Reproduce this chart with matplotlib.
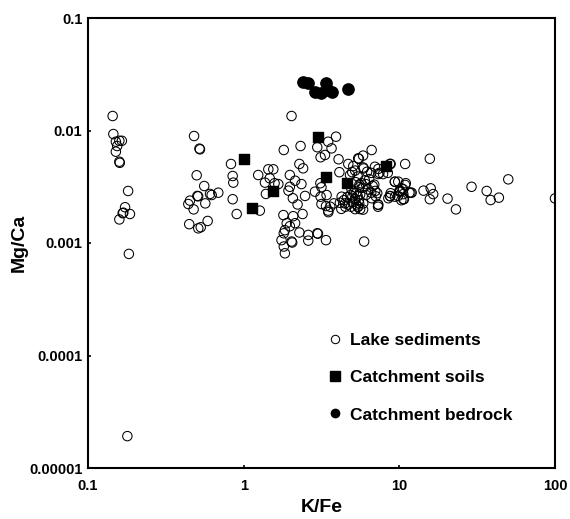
import matplotlib
matplotlib.use("Agg")
import matplotlib.pyplot as plt
from matplotlib.lines import Line2D

plt.rcParams['font.family'] = ['Liberation Sans', 'DejaVu Sans']
plt.rcParams['font.weight'] = 'bold'

# ---------------- data ----------------
lake_kfe = [
    0.144, 0.1455, 0.151, 0.159, 0.165, 0.154, 0.151, 0.159, 0.160, 0.181, 0.173, 0.1686, 0.167, 0.186, 0.159, 0.183, 0.179,
    0.48, 0.524, 0.52, 0.499, 0.558, 0.452, 0.441, 0.477, 0.504, 0.51, 0.567, 0.623, 0.608, 0.687, 0.447, 0.511, 0.530, 0.587,
    0.829, 0.85, 0.858, 0.85, 0.902, 1.24, 1.37, 1.44, 1.55, 1.47, 1.39, 1.27, 1.58,
    2.03, 3.92, 3.49, 3.67, 2.97, 3.12, 3.33, 1.81, 2.32, 4.07, 2.28, 2.41, 1.98, 2.14, 2.35, 1.98, 1.67, 1.94, 2.48, 2.07,
    2.87, 3.16, 3.12, 3.41, 3.16, 3.38, 3.49, 3.80, 4.15, 4.48, 4.26, 4.63, 4.86, 5.19, 5.52, 5.44, 5.86, 4.93, 5.52, 6.1,
    6.74, 7.21, 7.32, 6.64, 6.1, 4.82, 4.7, 5.44, 5.5, 6.64, 5.06, 5.86, 6.21, 7.32, 6.97, 8.79, 10.9, 9.84, 10.9, 10.1,
    8.79, 9.37, 10.7, 12.0,
    1.80, 2.08, 2.39, 1.89, 1.84, 1.98, 2.14, 1.81, 2.28, 2.6, 1.75, 2.03, 2.05, 2.97, 3.0, 3.38, 2.6, 1.81, 1.84, 5.94,
    2.22, 3.11, 3.5, 3.6, 4.12, 4.24, 4.98, 5.85, 5.25, 5.54, 5.1, 5.4, 5.85, 5.4, 5.5,
    15.7, 9.37, 10.35, 10.1, 10.6, 11.8, 8.7, 9.8, 10.6, 14.3, 15.9, 16.5, 15.7, 20.4, 23.1, 29.1, 36.4, 38.6, 43.6, 50.1, 100.0,
    7.33, 7.45, 7.86, 8.43, 8.7, 7.3, 7.3, 7.06, 8.75, 8.5, 9.35, 10.0, 10.6, 11.0, 10.3, 11.6,
    4.4, 4.7, 4.9, 5.0, 5.2, 5.3, 5.6, 4.5, 5.0, 5.3, 5.6, 5.8, 6.3, 5.7, 6.0, 6.4, 6.9, 7.0, 6.6, 5.4, 5.2, 5.9, 6.6,
]
lake_mgca = [
    0.01345, 0.0093, 0.00795, 0.0081, 0.0081, 0.00728, 0.00648, 0.00528, 0.00516, 0.0029, 0.00208, 0.00186, 0.00184, 0.00181, 0.00162, 0.0008, 0.0000192,
    0.00893, 0.0068, 0.0069, 0.0040, 0.00321, 0.00238, 0.00222, 0.00199, 0.00262, 0.0026, 0.00225, 0.00267, 0.00273, 0.0028, 0.00147, 0.00135, 0.00138, 0.00157,
    0.00504, 0.00394, 0.00344, 0.00245, 0.00181, 0.00402, 0.00344, 0.00452, 0.00452, 0.00376, 0.00273, 0.00194, 0.0034,
    0.01345, 0.00881, 0.00795, 0.00694, 0.0071, 0.00578, 0.00606, 0.00671, 0.00728, 0.00555, 0.00504, 0.00461, 0.00402, 0.00358, 0.00334, 0.00316, 0.00334, 0.00292, 0.00262, 0.0025,
    0.00286, 0.00313, 0.00258, 0.00267, 0.00222, 0.00213, 0.00194, 0.00225, 0.00228, 0.00225, 0.00258, 0.00256, 0.00267, 0.00245, 0.00225, 0.0021, 0.00225, 0.003, 0.00313, 0.00334,
    0.00321, 0.00277, 0.00218, 0.0025, 0.00267, 0.00402, 0.00504, 0.00566, 0.0056, 0.00671, 0.00483, 0.00469, 0.0043, 0.0041, 0.00476, 0.00504, 0.00504, 0.00351, 0.00328, 0.00292,
    0.00277, 0.00258, 0.00245, 0.0028,
    0.00177, 0.00173, 0.00181, 0.0015, 0.0013, 0.00141, 0.0015, 0.00122, 0.00124, 0.00118, 0.00106, 0.00103, 0.00101, 0.00122, 0.00121, 0.00106, 0.00105, 0.00093, 0.00081, 0.00103,
    0.0022, 0.0034, 0.00188, 0.0021, 0.00426, 0.00201, 0.00426, 0.00598, 0.00347, 0.0033, 0.0028, 0.0026, 0.00198, 0.0021, 0.0024,
    0.00561, 0.00351, 0.00306, 0.00285, 0.00272, 0.0028, 0.00262, 0.00262, 0.00245, 0.00292, 0.00306, 0.00272, 0.00245, 0.00248, 0.00199, 0.00316, 0.0029, 0.00241, 0.00253, 0.00368, 0.00249,
    0.00456, 0.0042, 0.0041, 0.0042, 0.00505, 0.0022, 0.0021, 0.0026, 0.0026, 0.0025, 0.0035, 0.0029, 0.003, 0.0034, 0.0024, 0.0028,
    0.0024, 0.0022, 0.0021, 0.0023, 0.0020, 0.0022, 0.0020, 0.0021, 0.0026, 0.0028, 0.0027, 0.0031, 0.0030, 0.0034, 0.0036, 0.0037, 0.0033, 0.0029, 0.0028, 0.0039, 0.0044, 0.0046, 0.0042,
]
soil_kfe = [1.01, 1.13, 1.54, 3.01, 3.38, 4.63, 8.20]
soil_mgca = [0.00558, 0.00206, 0.00292, 0.00881, 0.00384, 0.00344, 0.00483]
rock_kfe = [2.41, 2.60, 2.87, 3.14, 3.38, 3.49, 3.67, 4.70]
rock_mgca = [0.0272, 0.0266, 0.0221, 0.0217, 0.0263, 0.0229, 0.0219, 0.0232]

xticks = [0.1, 1, 10, 100]
xticklabels = ['0.1', '1', '10', '100']
yticks = [0.00001, 0.0001, 0.001, 0.01, 0.1]
yticklabels = ['0.00001', '0.0001', '0.001', '0.01', '0.1']
legend_labels = ['Lake sediments', 'Catchment soils', 'Catchment bedrock']

# ---------------- figure ----------------
fig = plt.figure(figsize=(5.70, 5.19), dpi=100)
ax = fig.add_axes([88/570, 1-468/519, (555-88)/570, (468-18)/519])

ax.scatter(lake_kfe, lake_mgca, s=46, facecolors='none', edgecolors='black', linewidths=0.75, zorder=2)
ax.scatter(soil_kfe, soil_mgca, s=56, marker='s', color='black', zorder=3)
ax.scatter(rock_kfe, rock_mgca, s=66, marker='o', color='black', zorder=3)

ax.set_xscale('log')
ax.set_yscale('log')
ax.set_xlim(0.1, 100)
ax.set_ylim(0.00001, 0.1)
ax.set_xticks(xticks)
ax.set_xticklabels(xticklabels)
ax.set_yticks(yticks)
ax.set_yticklabels(yticklabels)
ax.minorticks_off()
ax.tick_params(axis='both', which='major', direction='in', length=2.5, width=1.2, labelsize=10.5)
ax.tick_params(axis='x', pad=8)
ax.tick_params(axis='y', pad=4)
for lab in ax.get_xticklabels() + ax.get_yticklabels():
    lab.set_fontweight('bold')
for sp in ax.spines.values():
    sp.set_linewidth(1.5)

ax.set_xlabel('K/Fe', fontsize=14, fontweight='bold', labelpad=4)
ax.set_ylabel('Mg/Ca', fontsize=14, fontweight='bold', labelpad=1)

handles = [
    Line2D([], [], linestyle='none', marker='o', markersize=6, markerfacecolor='none', markeredgecolor='black', markeredgewidth=0.75),
    Line2D([], [], linestyle='none', marker='s', markersize=6.5, color='black'),
    Line2D([], [], linestyle='none', marker='o', markersize=6, color='black'),
]
leg = ax.legend(handles, legend_labels, loc='upper left', bbox_to_anchor=(328/570, 1-333/519),
                bbox_transform=fig.transFigure, frameon=False,
                prop={'weight': 'bold', 'size': 12.5}, handlelength=0.8, handletextpad=0.45,
                labelspacing=1.27, borderpad=0, borderaxespad=0)

fig.savefig('out.png', dpi=100)
